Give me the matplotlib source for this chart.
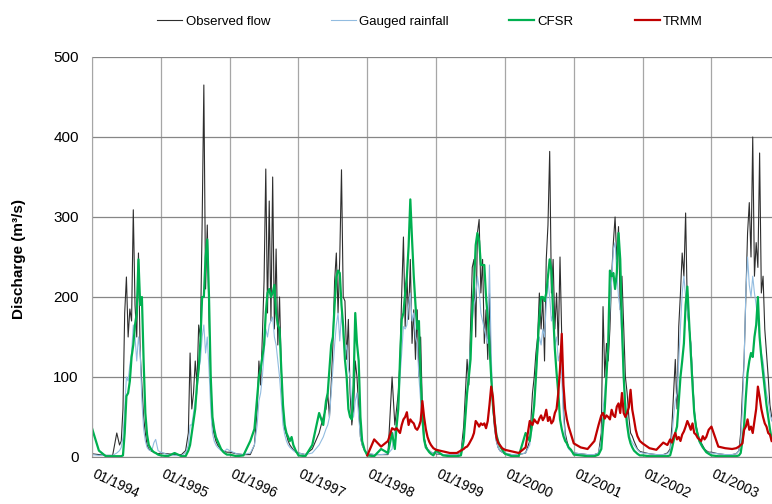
import matplotlib
matplotlib.use('Agg')

import numpy as np
import matplotlib.pyplot as plt
import matplotlib.transforms as mtransforms

plt.rcParams['font.family'] = ['Liberation Sans', 'DejaVu Sans']

# Hydrological years shown and sampling offsets inside each year (fraction of year)
YEARS = list(range(1994, 2004))
OFFSETS = [0.00, 0.10, 0.20, 0.30, 0.36, 0.400, 0.425, 0.450, 0.475, 0.500,
           0.525, 0.550, 0.575, 0.600, 0.625, 0.650, 0.675, 0.700, 0.725, 0.750,
           0.775, 0.800, 0.825, 0.850, 0.875, 0.900, 0.925, 0.960]

# Observed flow (m3/s), one row per year
OBSERVED = [
    4, 3, 2, 2, 30, 15, 20, 60, 180, 225, 150, 185, 170, 309, 190, 150, 255, 130, 90, 50, 30, 15, 10, 8, 7, 6, 5, 4,
    5, 4, 3, 3, 8, 30, 130, 60, 80, 120, 90, 165, 150, 290, 465, 210, 290, 175, 90, 40, 28, 20, 15, 12, 10, 8, 7, 6,
    6, 4, 3, 3, 15, 60, 120, 90, 150, 220, 360, 180, 320, 170, 350, 160, 260, 140, 200, 110, 60, 35, 28, 20, 15, 12, 9, 6,
    5, 3, 10, 30, 50, 60, 80, 50, 90, 140, 220, 255, 180, 250, 359, 200, 195, 122, 172, 80, 40, 60, 120, 100, 60, 25, 15, 8,
    4, 3, 3, 3, 100, 40, 60, 80, 120, 205, 275, 163, 226, 172, 247, 142, 184, 122, 184, 100, 150, 60, 25, 15, 10, 8, 6, 5,
    4, 3, 3, 3, 5, 38, 80, 122, 90, 163, 237, 247, 150, 280, 297, 205, 247, 142, 184, 122, 205, 100, 60, 35, 20, 12, 8, 6,
    4, 3, 3, 5, 20, 80, 100, 130, 150, 205, 160, 200, 120, 247, 290, 382, 205, 247, 160, 205, 140, 250, 150, 60, 30, 20, 12, 8,
    5, 4, 3, 3, 5, 30, 188, 100, 142, 120, 160, 226, 268, 300, 247, 288, 184, 226, 163, 100, 80, 50, 30, 26, 20, 15, 10, 7,
    6, 4, 3, 3, 5, 10, 38, 80, 122, 60, 163, 205, 255, 226, 305, 184, 163, 142, 100, 60, 40, 30, 22, 18, 14, 10, 8, 6,
    6, 4, 3, 3, 4, 8, 30, 80, 122, 200, 280, 318, 250, 400, 226, 268, 237, 380, 205, 226, 160, 130, 100, 65, 50,
]

# Simulated with gauged rainfall
GAUGED = [
    3, 2, 2, 2, 5, 8, 12, 25, 60, 100, 95, 115, 130, 165, 150, 120, 150, 130, 70, 35, 20, 12, 9, 8, 10, 18, 22, 8,
    6, 3, 2, 2, 5, 15, 40, 40, 55, 70, 80, 110, 120, 150, 165, 130, 150, 110, 60, 30, 20, 15, 12, 10, 8, 8, 7, 10,
    8, 4, 3, 5, 15, 40, 70, 80, 100, 130, 160, 150, 165, 170, 175, 150, 140, 120, 100, 70, 40, 28, 20, 15, 12, 10, 8, 6,
    5, 3, 5, 15, 25, 35, 40, 50, 80, 110, 140, 165, 180, 145, 180, 150, 130, 140, 110, 100, 60, 50, 70, 80, 50, 25, 15, 8,
    5, 3, 3, 4, 10, 35, 40, 60, 100, 130, 163, 160, 165, 190, 205, 170, 180, 150, 142, 100, 70, 40, 20, 13, 10, 8, 6, 5,
    5, 3, 3, 3, 5, 25, 50, 80, 110, 142, 170, 190, 200, 226, 210, 180, 170, 160, 150, 142, 240, 130, 60, 35, 20, 12, 8, 6,
    5, 3, 3, 5, 15, 40, 70, 100, 130, 150, 140, 160, 150, 190, 220, 200, 170, 180, 140, 150, 120, 130, 100, 50, 25, 15, 10, 7,
    5, 4, 3, 3, 5, 20, 60, 80, 110, 140, 184, 220, 260, 268, 230, 200, 184, 150, 100, 70, 50, 30, 22, 18, 15, 12, 9, 6,
    5, 4, 3, 3, 4, 8, 25, 50, 70, 80, 120, 163, 205, 226, 200, 184, 160, 142, 100, 60, 35, 25, 18, 14, 11, 9, 7, 5,
    5, 4, 3, 3, 4, 8, 20, 60, 120, 205, 250, 215, 200, 226, 205, 190, 170, 150, 130, 120, 100, 80, 70, 55, 45,
]

# Simulated with CFSR rainfall
CFSR = [
    36, 8, 1, 1, 1, 1, 1, 2, 30, 76, 80, 95, 125, 140, 165, 180, 247, 190, 200, 120, 55, 28, 15, 11, 8, 6, 5, 3,
    2, 1, 5, 1, 1, 8, 15, 30, 45, 60, 90, 110, 145, 200, 200, 250, 272, 200, 100, 50, 35, 25, 20, 15, 10, 7, 5, 3,
    3, 1, 2, 20, 35, 75, 100, 110, 125, 140, 180, 205, 210, 200, 205, 215, 180, 165, 160, 110, 65, 40, 30, 25, 20, 25, 15, 8,
    2, 1, 15, 55, 40, 70, 80, 110, 140, 150, 190, 225, 233, 230, 190, 163, 122, 100, 60, 50, 47, 90, 180, 142, 120, 50, 20, 9,
    2, 1, 10, 5, 30, 10, 38, 60, 122, 172, 180, 205, 226, 263, 322, 272, 226, 190, 160, 170, 100, 50, 22, 12, 9, 6, 4, 2,
    8, 2, 1, 1, 2, 20, 50, 80, 100, 122, 184, 215, 265, 280, 270, 240, 240, 240, 200, 175, 140, 100, 65, 45, 28, 20, 14, 9,
    4, 1, 1, 30, 20, 45, 65, 100, 140, 175, 200, 200, 195, 205, 226, 247, 233, 180, 135, 105, 80, 47, 35, 26, 20, 17, 12, 9,
    3, 2, 1, 1, 3, 10, 38, 60, 100, 142, 233, 226, 230, 210, 230, 280, 247, 163, 100, 60, 40, 25, 17, 12, 8, 6, 4, 2,
    2, 1, 1, 1, 1, 2, 10, 20, 30, 38, 70, 100, 120, 142, 190, 213, 170, 130, 90, 55, 38, 28, 20, 16, 12, 9, 6, 4,
    2, 1, 1, 1, 1, 2, 5, 20, 40, 75, 105, 120, 130, 125, 150, 165, 200, 150, 125, 105, 85, 65, 50, 35, 22,
]

# Simulated with TRMM rainfall (available from 1998)
TRMM_START = 1998
TRMM = [
    2, 22, 13, 20, 36, 34, 36, 33, 30, 40, 47, 50, 56, 40, 47, 44, 42, 36, 34, 38, 45, 70, 50, 35, 25, 19, 15, 11,
    9, 7, 5, 5, 8, 10, 12, 13, 16, 20, 24, 30, 45, 42, 38, 42, 40, 42, 36, 45, 65, 88, 75, 45, 25, 18, 15, 11,
    9, 7, 5, 12, 45, 40, 47, 44, 42, 48, 52, 46, 50, 59, 45, 50, 42, 45, 55, 60, 80, 110, 154, 90, 60, 47, 38, 28,
    17, 12, 10, 20, 40, 52, 55, 48, 52, 50, 47, 59, 52, 50, 63, 67, 55, 80, 55, 50, 55, 62, 84, 59, 47, 34, 26, 20,
    17, 11, 9, 18, 15, 22, 18, 25, 30, 22, 25, 20, 28, 32, 38, 45, 40, 34, 42, 30, 28, 24, 22, 20, 26, 22, 25, 34,
    38, 13, 11, 10, 11, 13, 15, 17, 34, 38, 47, 34, 38, 30, 45, 60, 88, 75, 60, 50, 42, 38, 30, 28, 20,
]

TICK_LABELS = [f'01/{y}' for y in YEARS]

if __name__ == '__main__':

    # Time axis in decimal years
    t_all = np.array([y + o for y in YEARS for o in OFFSETS])
    t_trmm = np.array([y + o for y in YEARS if y >= TRMM_START for o in OFFSETS])

    fig = plt.figure(figsize=(7.72, 5.04), dpi=100)
    ax = fig.add_subplot(1, 1, 1)
    fig.subplots_adjust(left=92 / 772, right=1.0, bottom=1 - 457 / 504, top=1 - 57 / 504)

    ax.plot(t_all[:len(OBSERVED)], OBSERVED, color='#2e2e2e', lw=0.8, label='Observed flow')
    ax.plot(t_all[:len(GAUGED)], GAUGED, color='#92bce0', lw=0.8, label='Gauged rainfall')
    ax.plot(t_all[:len(CFSR)], CFSR, color='#00b050', lw=1.6, label='CFSR')
    ax.plot(t_trmm[:len(TRMM)], TRMM, color='#c00000', lw=1.6, label='TRMM')

    # Axes limits and ticks
    ax.set_xlim(1994, 2003.88)
    ax.set_ylim(0, 500)
    ax.set_yticks(range(0, 501, 100))
    ax.set_xticks(YEARS)
    ax.set_xticklabels(TICK_LABELS, rotation=-25, ha='left', va='top',
                       rotation_mode='anchor', fontsize=10)
    ax.tick_params(axis='both', length=0)
    ax.tick_params(axis='x', pad=7)
    ax.tick_params(axis='y', pad=9.5, labelsize=11)

    # Nudge the slanted date labels so they start on their gridline
    shift = mtransforms.ScaledTranslation(3 / 72, 0, fig.dpi_scale_trans)
    for label in ax.get_xticklabels():
        label.set_transform(label.get_transform() + shift)

    # Grid and frame
    ax.set_axisbelow(True)
    ax.grid(axis='y', color='#868686', lw=0.9)
    ax.grid(axis='x', color='#a6a6a6', lw=0.9)
    for side in ('top', 'right'):
        ax.spines[side].set_visible(False)
    ax.spines['left'].set_color('#a6a6a6')
    ax.spines['bottom'].set_color('#868686')

    ax.set_ylabel('Discharge (m³/s)', fontsize=11, fontweight='bold')
    ax.yaxis.set_label_coords(-0.097, 0.495)

    fig.legend(loc='center', bbox_to_anchor=(430 / 772, 1 - 22 / 504), ncol=4,
               frameon=False, fontsize=9.5, handlelength=1.9, handletextpad=0.25,
               columnspacing=4.6)

    fig.savefig('out.png', dpi=100)
